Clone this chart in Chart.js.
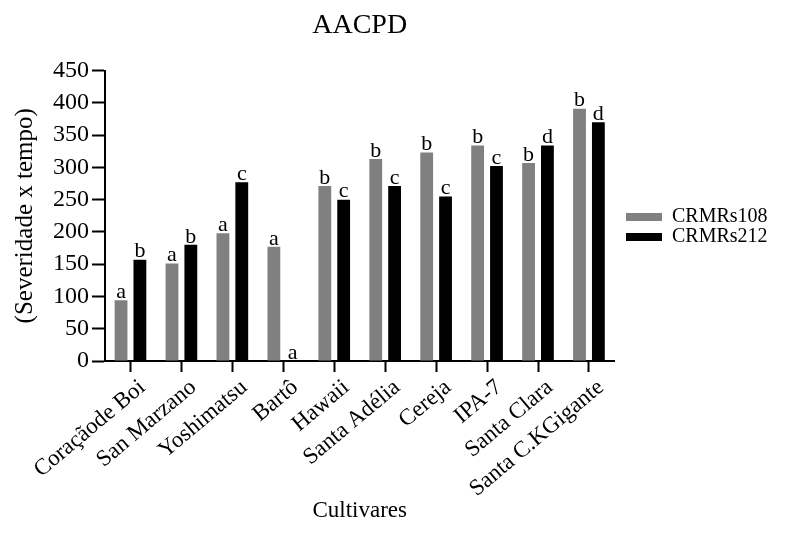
<!DOCTYPE html>
<html>
<head>
<meta charset="utf-8">
<script src="https://cdn.jsdelivr.net/npm/chart.js@4.4.1/dist/chart.umd.min.js"></script>
<style>
  html, body { margin: 0; padding: 0; background: #ffffff; }
  #wrap { width: 796px; height: 545px; }
</style>
</head>
<body>
<div id="wrap"><canvas id="c" width="796" height="545"></canvas></div>
<script>
const categories = ['Coraçãode Boi', 'San Marzano', 'Yoshimatsu', 'Bartô', 'Hawaii', 'Santa Adélia', 'Cereja', 'IPA-7', 'Santa Clara', 'Santa C.KGigante'];
const crmrs108 = [94, 151, 198, 177, 271, 313, 323, 334, 307, 391];
const crmrs212 = [157, 180, 277, 0, 250, 271, 255, 302, 334, 370];
const letters108 = ['a', 'a', 'a', 'a', 'b', 'b', 'b', 'b', 'b', 'b'];
const letters212 = ['b', 'b', 'c', 'a', 'c', 'c', 'c', 'c', 'd', 'd'];
const yTicks = [0, 50, 100, 150, 200, 250, 300, 350, 400, 450];

const SERIF = '"Liberation Serif", "Times New Roman", serif';

const letterPlugin = {
  id: 'letters',
  afterDatasetsDraw(chart) {
    const ctx = chart.ctx;
    const sets = [letters108, letters212];
    ctx.save();
    ctx.font = '22px ' + SERIF;
    ctx.fillStyle = '#000';
    ctx.textAlign = 'center';
    ctx.textBaseline = 'bottom';
    chart.data.datasets.forEach((ds, di) => {
      const meta = chart.getDatasetMeta(di);
      meta.data.forEach((bar, i) => {
        ctx.fillText(sets[di][i], bar.x, bar.y + 3);
      });
    });
    ctx.restore();
  }
};

// place the legend block beside the plot, level with the reference
const legendPlace = {
  id: 'legendPlace',
  afterLayout(chart) {
    const lg = chart.legend;
    if (!lg) return;
    const w = lg.width, h = lg.height;
    lg.left = 626; lg.right = 626 + w;
    lg.top = 207; lg.bottom = 207 + h;
  }
};

new Chart(document.getElementById('c'), {
  type: 'bar',
  data: {
    labels: categories,
    datasets: [
      { label: 'CRMRs108', data: crmrs108, backgroundColor: '#808080', borderWidth: 0,
        categoryPercentage: 0.74, barPercentage: 0.68 },
      { label: 'CRMRs212', data: crmrs212, backgroundColor: '#000000', borderWidth: 0,
        categoryPercentage: 0.74, barPercentage: 0.68 }
    ]
  },
  options: {
    responsive: false,
    animation: false,
    devicePixelRatio: 1,
    layout: { padding: { left: 0, right: 30, top: 0, bottom: 20 } },
    plugins: {
      title: {
        display: true, text: 'AACPD', fullSize: false, color: '#000',
        font: { family: SERIF, size: 28, weight: 'normal' },
        padding: { top: 9, bottom: 28 }
      },
      legend: {
        display: true, position: 'right', align: 'start',
        labels: {
          boxWidth: 36, boxHeight: 8, color: '#000', padding: 0,
          font: { family: SERIF, size: 20 }
        }
      },
      tooltip: { enabled: false }
    },
    scales: {
      x: {
        afterFit(scale) { scale.height = 164; },
        grid: { display: true, offset: false, drawOnChartArea: false, drawTicks: true, tickLength: 11, tickWidth: 2, tickColor: '#000' },
        border: { display: true, color: '#000', width: 2, dash: [14, 2] },
        ticks: { color: '#000', maxRotation: 40, minRotation: 40, padding: 2, labelOffset: 12, font: { family: SERIF, size: 23 } },
        title: { display: true, text: 'Cultivares', color: '#000', font: { family: SERIF, size: 23 }, padding: { top: 0, bottom: 0 } }
      },
      y: {
        min: 0, max: 450,
        afterFit(scale) { scale.width = 105; },
        afterBuildTicks(scale) { scale.ticks = yTicks.map(v => ({ value: v })); },
        grid: { display: true, drawOnChartArea: false, drawTicks: true, tickLength: 13, tickWidth: 2, tickColor: '#000' },
        border: { display: true, color: '#000', width: 2 },
        ticks: { color: '#000', padding: 3, font: { family: SERIF, size: 24 } },
        title: { display: true, text: '(Severidade x tempo)', color: '#000', font: { family: SERIF, size: 25 }, padding: { top: 10, bottom: 10 } }
      }
    }
  },
  plugins: [letterPlugin, legendPlace]
});
</script>
</body>
</html>
